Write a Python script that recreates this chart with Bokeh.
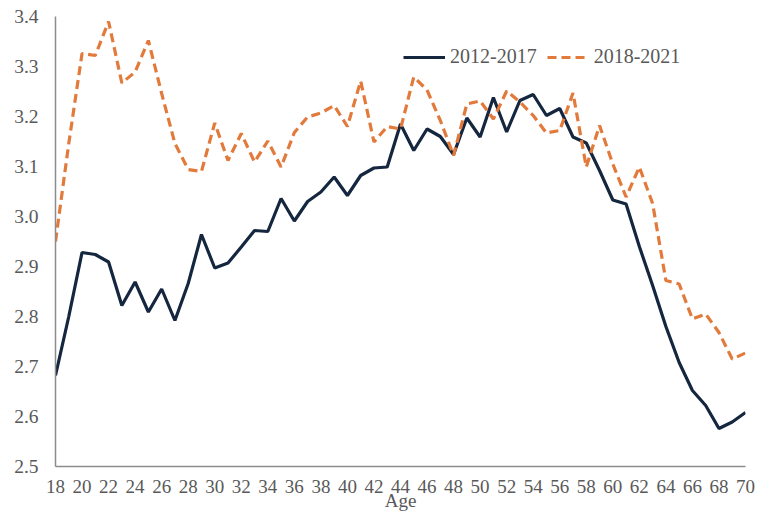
from bokeh.plotting import figure
from bokeh.models import Range1d, FixedTicker, Legend, LegendItem, PrintfTickFormatter
from bokeh.embed import file_html
from bokeh.resources import INLINE

ages = list(range(18, 71))
series_2012_2017 = [2.682, 2.80, 2.928, 2.924, 2.909, 2.822, 2.869, 2.809, 2.855, 2.792,
                    2.866, 2.964, 2.897, 2.907, 2.939, 2.972, 2.970, 3.036, 2.991, 3.030,
                    3.049, 3.079, 3.042, 3.082, 3.097, 3.099, 3.185, 3.132, 3.175, 3.160,
                    3.124, 3.197, 3.159, 3.238, 3.169, 3.232, 3.244, 3.202, 3.216, 3.159,
                    3.147, 3.092, 3.033, 3.025, 2.940, 2.862, 2.780, 2.708, 2.652, 2.622,
                    2.576, 2.589, 2.608]
series_2018_2021 = [2.950, 3.146, 3.326, 3.322, 3.390, 3.267, 3.289, 3.352, 3.246, 3.146,
                    3.094, 3.090, 3.187, 3.112, 3.166, 3.109, 3.151, 3.099, 3.168, 3.199,
                    3.207, 3.222, 3.180, 3.271, 3.149, 3.180, 3.175, 3.279, 3.253, 3.192,
                    3.122, 3.225, 3.231, 3.195, 3.251, 3.229, 3.202, 3.167, 3.172, 3.247,
                    3.099, 3.182, 3.105, 3.039, 3.099, 3.026, 2.872, 2.865, 2.795, 2.805,
                    2.768, 2.715, 2.727]
series_names = ["2012-2017", "2018-2021"]
x_ticks = list(range(18, 71, 2))
y_ticks = [2.5, 2.6, 2.7, 2.8, 2.9, 3.0, 3.1, 3.2, 3.3, 3.4]

NAVY = "#15263f"
ORANGE = "#e27a3c"
GREY_TEXT = "#595959"
FONT = "Liberation Serif"

p = figure(width=757, height=515, output_backend="svg", toolbar_location=None,
           x_range=Range1d(18, 70), y_range=Range1d(2.5, 3.4),
           min_border_left=55, min_border_right=12, min_border_top=16, min_border_bottom=49)
p.outline_line_color = None
p.xgrid.grid_line_color = None
p.ygrid.grid_line_color = None

r1 = p.line(ages, series_2012_2017, line_color=NAVY, line_width=3.2)
r2 = p.line(ages, series_2018_2021, line_color=ORANGE, line_width=3.2, line_dash="9 5")

for ax in (p.xaxis[0], p.yaxis[0]):
    ax.axis_line_color = "#8c8c8c"
    ax.axis_line_width = 1.5
    ax.major_tick_line_color = None
    ax.minor_tick_line_color = None
    ax.major_tick_in = 0
    ax.major_tick_out = 0
    ax.minor_tick_in = 0
    ax.minor_tick_out = 0
    ax.major_label_text_font = FONT
    ax.major_label_text_font_size = "19px"
    ax.major_label_text_color = GREY_TEXT

p.yaxis[0].major_label_text_font_size = "19.5px"
p.xaxis[0].ticker = FixedTicker(ticks=x_ticks)
p.yaxis[0].ticker = FixedTicker(ticks=y_ticks)
p.yaxis[0].formatter = PrintfTickFormatter(format="%.1f")
p.xaxis[0].major_label_standoff = 13
p.yaxis[0].major_label_standoff = 17

p.xaxis[0].axis_label = "Age"
p.xaxis[0].axis_label_text_font = FONT
p.xaxis[0].axis_label_text_font_size = "19px"
p.xaxis[0].axis_label_text_font_style = "normal"
p.xaxis[0].axis_label_text_color = GREY_TEXT
p.xaxis[0].axis_label_standoff = -6

legend = Legend(items=[LegendItem(label=series_names[0], renderers=[r1]),
                       LegendItem(label=series_names[1], renderers=[r2])],
                orientation="horizontal", location=(348, 398),
                label_text_font=FONT, label_text_font_size="20px", label_text_color=GREY_TEXT,
                glyph_width=42, glyph_height=20, label_standoff=5, spacing=10,
                padding=0, margin=0, border_line_color=None, background_fill_alpha=0)
p.add_layout(legend)

open("out.html", "w").write(file_html(p, INLINE))
